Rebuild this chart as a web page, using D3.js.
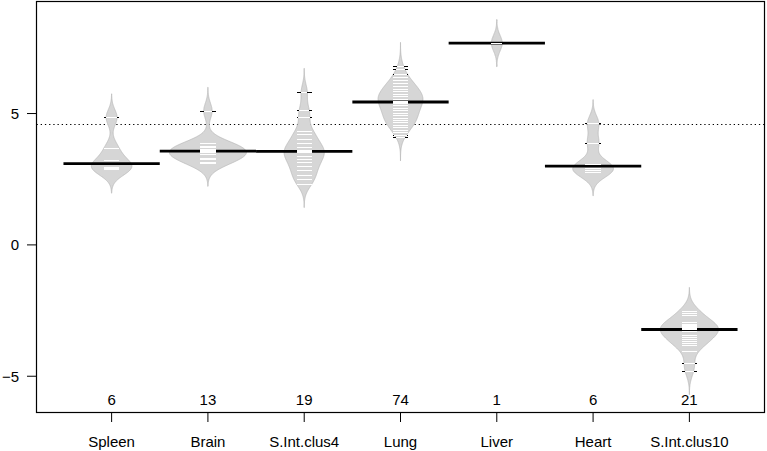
<!DOCTYPE html>
<html><head><meta charset="utf-8">
<script src="https://cdn.jsdelivr.net/npm/d3@7"></script>
<style>
body{margin:0;background:#fff}
text{font-family:"Liberation Sans",Arial,Helvetica,sans-serif;font-size:15px;fill:#000}
</style>
</head><body>
<svg id="c" width="767" height="451"></svg>
<script>
// ---- data ----
const categories = ["Spleen","Brain","S.Int.clus4","Lung","Liver","Heart","S.Int.clus10"];
const spleen = [2.87, 2.92, 2.97, 3.22, 3.67, 4.85];
const brain = [3.13, 3.16, 3.27, 3.30, 3.45, 3.52, 3.57, 3.60, 3.65, 3.72, 3.78, 3.89, 5.10];
const sintClus4 = [2.32, 2.49, 2.66, 2.85, 3.00, 3.14, 3.27, 3.39, 3.52, 3.56, 3.61, 3.71, 3.86, 4.03, 4.22, 4.34, 4.85, 5.15, 5.82];
const lung = [4.10, 4.20, 4.30, 4.39, 4.39, 4.48,
              4.57, 4.57, 4.57, 4.66, 4.66, 4.66, 4.75, 4.75, 4.75,
              4.84, 4.84, 4.84, 4.93, 4.93, 4.93, 5.02, 5.02, 5.02,
              5.12, 5.12, 5.12, 5.22, 5.22, 5.22, 5.32, 5.32, 5.32,
              5.41, 5.41, 5.41, 5.44,
              5.44, 5.48, 5.48, 5.48, 5.48, 5.57, 5.57, 5.57, 5.57,
              5.67, 5.67, 5.67, 5.67, 5.76, 5.76, 5.76, 5.76,
              5.85, 5.85, 5.85, 5.85, 5.95, 5.95, 5.95, 6.05, 6.05, 6.05,
              6.17, 6.17, 6.17, 6.27, 6.27, 6.39, 6.39, 6.52, 6.71, 6.81];
const liver = [7.68];
const heart = [2.77, 2.85, 2.92, 3.08, 3.89, 4.63];
const sintClus10 = [-4.80, -4.50, -4.05, -3.80, -3.72, -3.66, -3.58, -3.50, -3.42, -3.28, -3.22,
                    -3.20, -3.18, -3.14, -3.10, -3.05, -3.00, -2.95, -2.68, -2.58, -2.52];
const groups = [spleen, brain, sintClus4, lung, liver, heart, sintClus10];
const yTicks = [-5, 0, 5];
const overallLine = 4.62;

// beanplot parameters
const bandwidth = 0.30, grownage = 10, maxwidth = 0.8, ll = 0.16, avgHalf = 0.5;

// ---- layout ----
const svg = d3.select("#c");
const L = 36.5, R = 764.5, T = 1.5, B = 412.5;
const x = d3.scaleLinear().domain([0.22, 7.78]).range([L, R]);
const y = d3.scaleLinear().domain([-6.38, 9.265]).range([B, T]);

// densities
function kde(vals, h) {
  const lo = d3.min(vals) - 3*h, hi = d3.max(vals) + 3*h, N = 300;
  const c = 1/(vals.length*h*Math.sqrt(2*Math.PI));
  const out = [];
  for (let i = 0; i < N; i++) {
    const t = lo + (hi-lo)*i/(N-1);
    out.push([t, c*d3.sum(vals, v => Math.exp(-0.5*((t-v)/h)**2))]);
  }
  return out;
}
const dens = groups.map(g => {
  const f = Math.min(1, g.length/grownage);
  return kde(g, bandwidth).map(([t,d]) => [t, d*f]);
});
const gmax = d3.max(dens, d => d3.max(d, p => p[1]));
const halfW = dens.map(d => d.map(([t,v]) => [t, v/gmax*maxwidth/2]));
function widthAt(i, v) {
  const d = halfW[i];
  const lo = d[0][0], hi = d[d.length-1][0];
  if (v <= lo || v >= hi) return 0;
  const k = (v-lo)/(hi-lo)*(d.length-1), j = Math.floor(k), fr = k-j;
  return d[j][1]*(1-fr) + (d[Math.min(j+1,d.length-1)][1])*fr;
}

// overall line
svg.append("line").attr("x1", L).attr("x2", R)
  .attr("y1", Math.round(y(overallLine))+0.5).attr("y2", Math.round(y(overallLine))+0.5)
  .attr("stroke", "#000").attr("stroke-width", 1.2).attr("stroke-dasharray", "1.3,2.9");

// beans
const line = d3.line().x(p => p[0]).y(p => p[1]);
groups.forEach((g, i) => {
  const at = i + 1;
  const pts = halfW[i].map(([t,w]) => [x(at + w), y(t)])
    .concat(halfW[i].slice().reverse().map(([t,w]) => [x(at - w), y(t)]));
  svg.append("path").attr("d", line(pts) + "Z")
    .attr("fill", "#d6d6d6").attr("stroke", "#b4b4b4").attr("stroke-width", 0.7);
});

// average (median) lines
groups.forEach((g, i) => {
  const at = i + 1, m = d3.median(g);
  svg.append("line").attr("x1", x(at - avgHalf)).attr("x2", x(at + avgHalf))
    .attr("y1", y(m)).attr("y2", y(m)).attr("stroke", "#000").attr("stroke-width", 2.8);
});

// beanlines (white inside the bean, black where they stick out)
const bl = svg.append("g").attr("shape-rendering", "crispEdges");
groups.forEach((g, i) => {
  const at = i + 1;
  g.forEach(v => {
    const w = Math.min(widthAt(i, v), ll/2);
    const yy = Math.round(y(v)) + 0.5;
    bl.append("line").attr("x1", Math.round(x(at - ll/2))).attr("x2", Math.round(x(at + ll/2)))
      .attr("y1", yy).attr("y2", yy).attr("stroke", "#000").attr("stroke-width", 1);
    bl.append("line").attr("x1", Math.round(x(at - w))).attr("x2", Math.round(x(at + w)))
      .attr("y1", yy).attr("y2", yy).attr("stroke", "#fff").attr("stroke-width", 1);
  });
});

// counts
groups.forEach((g, i) => {
  svg.append("text").attr("x", x(i+1)).attr("y", 404.5).attr("text-anchor", "middle").text(g.length);
});

// frame
svg.append("rect").attr("x", L).attr("y", T).attr("width", R-L).attr("height", B-T)
  .attr("fill", "none").attr("stroke", "#000").attr("stroke-width", 1.2);

// y axis
yTicks.forEach(t => {
  svg.append("line").attr("x1", 27).attr("x2", L).attr("y1", y(t)).attr("y2", y(t))
    .attr("stroke", "#000").attr("stroke-width", 1);
  svg.append("text").attr("x", 19).attr("y", y(t)).attr("dy", "0.36em")
    .attr("text-anchor", "end").text(t < 0 ? "\u2212" + (-t) : String(t));
});

// x axis
categories.forEach((c, i) => {
  svg.append("line").attr("x1", x(i+1)).attr("x2", x(i+1)).attr("y1", B).attr("y2", 422)
    .attr("stroke", "#000").attr("stroke-width", 1);
  svg.append("text").attr("x", x(i+1)).attr("y", 447).attr("text-anchor", "middle").text(c);
});
</script>
</body></html>
